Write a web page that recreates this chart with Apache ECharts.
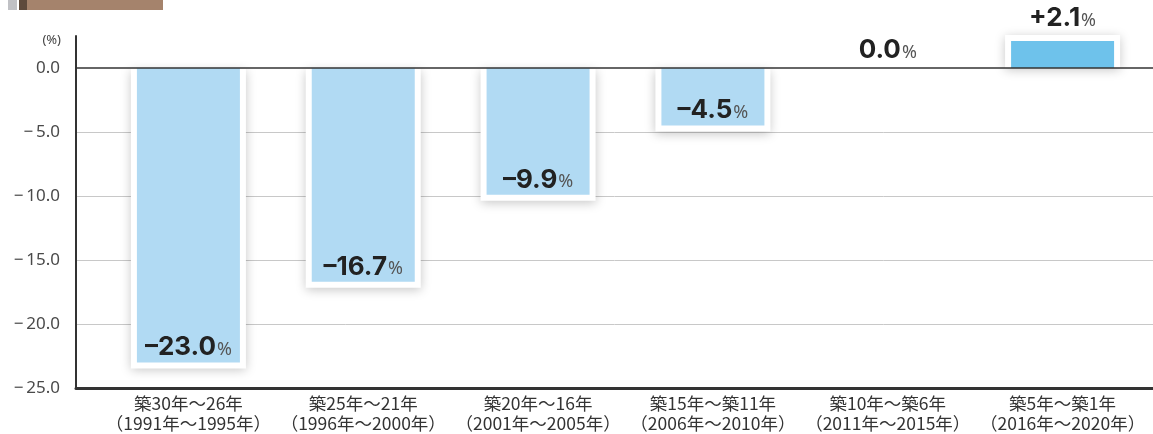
<!DOCTYPE html>
<html><head><meta charset="utf-8">
<script src="https://cdn.jsdelivr.net/npm/echarts@6/dist/echarts.min.js"></script>
<style>html,body{margin:0;padding:0;background:#fff}#c{width:1153px;height:434px}</style>
</head><body><div id="c"></div>
<script>
const categories = ['築30年〜26年\n（1991年〜1995年）','築25年〜21年\n（1996年〜2000年）','築20年〜16年\n（2001年〜2005年）','築15年〜築11年\n（2006年〜2010年）','築10年〜築6年\n（2011年〜2015年）','築5年〜築1年\n（2016年〜2020年）'];
const values = [-23.0, -16.7, -9.9, -4.5, 0.0, 2.1];
const yTicks = [-25, -20, -15, -10, -5, 0];

const fmt = v => v > 0 ? '+' + v.toFixed(1) : (v < 0 ? '–' + Math.abs(v).toFixed(1) : v.toFixed(1));
const chart = echarts.init(document.getElementById('c'));
const FILL_W = 103, PAD = 6;
chart.setOption({
  animation: false,
  grid: [
    {left: 76, right: 0, top: 36, bottom: 46},
    {left: 101, right: 3, top: 36, bottom: 46}
  ],
  xAxis: [
    {type: 'value', gridIndex: 0, min: 0, max: 1, axisLabel: {show: false}, axisTick: {show: false}, splitLine: {show: false},
     axisLine: {onZero: false, lineStyle: {color: '#333', width: 3}}},
    {type: 'category', gridIndex: 1, data: categories, axisLine: {show: false}, axisTick: {show: false},
     axisLabel: {interval: 0, margin: 5, fontFamily: 'Noto Sans CJK JP', fontSize: 17.5, lineHeight: 20, color: '#333'}}
  ],
  yAxis: [
    {type: 'value', gridIndex: 0, min: -25, max: 2.5, interval: 5,
     axisLine: {show: true, onZero: false, lineStyle: {color: '#333', width: 2}}, axisTick: {show: false},
     axisLabel: {margin: 16, fontFamily: 'Noto Sans', fontSize: 17, color: '#4a4a4a', showMaxLabel: false,
       formatter: v => yTicks.indexOf(v) >= 0 ? (v === 0 ? '0.0' : '−\u2009' + Math.abs(v).toFixed(1)) : ''},
     splitLine: {show: true, lineStyle: {width: 1, color: ['rgba(0,0,0,0)', '#c8c8c8', '#c8c8c8', '#c8c8c8', '#c8c8c8', 'rgba(0,0,0,0)', 'rgba(0,0,0,0)']}}},
    {type: 'value', gridIndex: 1, min: -25, max: 2.5, show: false}
  ],
  graphic: [
    {type: 'rect', shape: {x: 8, y: 0, width: 9, height: 10}, style: {fill: '#c0c1c5'}},
    {type: 'rect', shape: {x: 19, y: 0, width: 8, height: 10}, style: {fill: '#5e4a3c'}},
    {type: 'rect', shape: {x: 27, y: 0, width: 136, height: 10}, style: {fill: '#a5836c'}},
    {type: 'text', right: 1153 - 61, top: 34, style: {text: '(%)', fontFamily: 'Noto Sans', fontSize: 13, fill: '#444'}}
  ],
  series: [
    {
      type: 'custom', xAxisIndex: 1, yAxisIndex: 1, z: 3,
      data: values.map((v, i) => [i, v]),
      renderItem: function (params, api) {
        const i = api.value(0), v = api.value(1);
        const p0 = api.coord([i, 0]), p1 = api.coord([i, v]);
        const cx = p0[0], y0 = p0[1], y1 = p1[1];
        const children = [];
        const labelStyle = {
          text: '{b|' + fmt(v) + '}{p|%}',
          rich: {
            b: {fontFamily: 'Inter', fontWeight: 'bold', fontSize: 26, fill: '#222'},
            p: {fontFamily: 'Noto Sans', fontSize: 18, fill: '#555', padding: [5, 0, 0, 1]}
          },
          align: 'center', verticalAlign: 'middle'
        };
        if (v < 0) {
          children.push({type: 'rect', shape: {x: cx - FILL_W / 2 - PAD, y: y0 + 1, width: FILL_W + 2 * PAD, height: y1 - y0 + PAD - 1},
            style: {fill: '#fff', shadowBlur: 10, shadowColor: 'rgba(0,0,0,0.22)', shadowOffsetY: 2}});
          children.push({type: 'rect', shape: {x: cx - FILL_W / 2, y: y0, width: FILL_W, height: y1 - y0}, style: {fill: '#b1daf3'}});
          children.push({type: 'text', x: cx, y: y1 - 15, style: labelStyle});
        } else if (v > 0) {
          children.push({type: 'rect', shape: {x: cx - FILL_W / 2 - PAD, y: y1 - PAD, width: FILL_W + 2 * PAD, height: y0 - y1 + PAD},
            style: {fill: '#fff', shadowBlur: 10, shadowColor: 'rgba(0,0,0,0.22)', shadowOffsetY: 2}});
          children.push({type: 'rect', shape: {x: cx - FILL_W / 2, y: y1, width: FILL_W, height: y0 - y1}, style: {fill: '#6ec2eb'}});
          children.push({type: 'text', x: cx, y: y1 - 23, style: labelStyle});
        } else {
          children.push({type: 'text', x: cx, y: y0 - 18, style: labelStyle});
        }
        return {type: 'group', children: children};
      }
    },
    {
      type: 'line', xAxisIndex: 0, yAxisIndex: 0, data: [], z: 10, silent: true,
      markLine: {silent: true, symbol: 'none', label: {show: false}, z: 10,
        lineStyle: {type: 'solid', color: '#333', width: 1.5}, data: [{yAxis: 0}]}
    }
  ]
});
</script></body></html>
